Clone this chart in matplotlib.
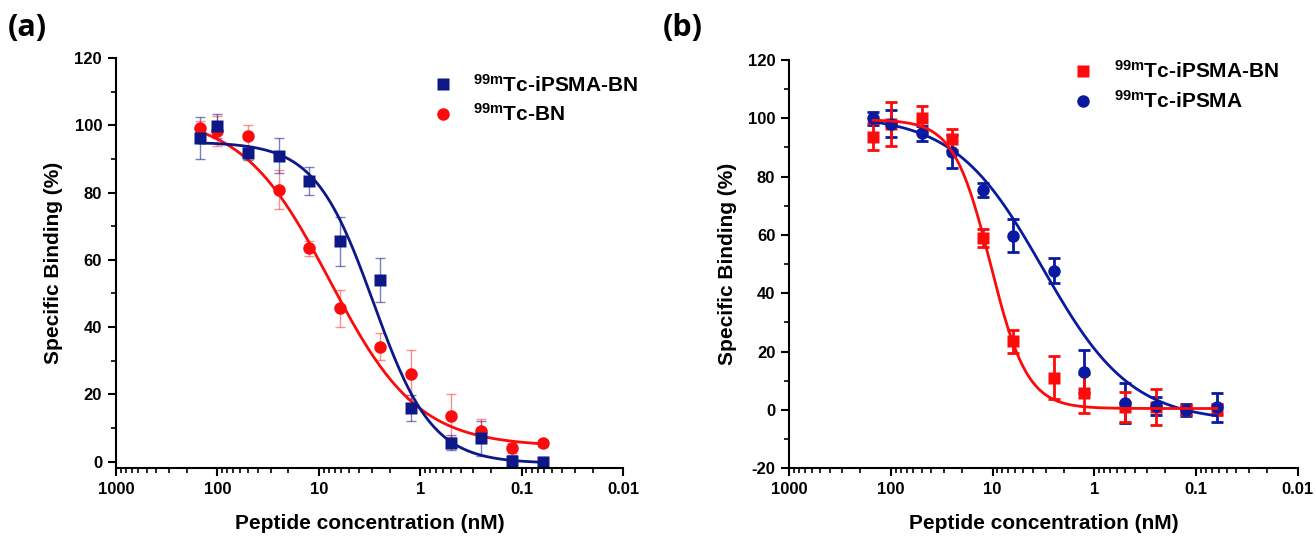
import numpy as np
import matplotlib
matplotlib.use("Agg")
import matplotlib.pyplot as plt
from matplotlib.lines import Line2D
from matplotlib.ticker import LogLocator, NullFormatter, FixedLocator, FixedFormatter, MultipleLocator

plt.rcParams['font.family'] = ['Liberation Sans', 'DejaVu Sans']
plt.rcParams['font.weight'] = 'bold'
plt.rcParams['axes.unicode_minus'] = False
plt.rcParams['mathtext.fontset'] = 'custom'
plt.rcParams['mathtext.rm'] = 'Liberation Sans:bold'
plt.rcParams['mathtext.it'] = 'Liberation Sans:bold'
plt.rcParams['mathtext.bf'] = 'Liberation Sans:bold'

# peptide concentrations (nM)
conc = [150, 100, 50, 25, 12.5, 6.25, 2.5, 1.25, 0.5, 0.25, 0.125, 0.0625]

# panel (a)
a_ipsma_bn = [96.2, 99.8, 91.8, 90.9, 83.5, 65.5, 54.0, 16.0, 5.6, 6.9, 0.3, 0.0]
a_ipsma_bn_err = [6.3, 3.5, 2.0, 5.2, 4.2, 7.2, 6.5, 3.8, 2.3, 5.2, 1.7, 1.5]
a_bn = [99.3, 98.3, 96.7, 80.8, 63.4, 45.6, 34.2, 25.9, 13.7, 9.1, 4.1, 5.4]
a_bn_err = [2.0, 4.5, 3.4, 5.8, 2.3, 5.5, 4.1, 7.3, 6.4, 3.7, 1.5, 1.0]

# panel (b)
b_ipsma_bn = [93.7, 98.0, 100.0, 92.8, 59.0, 23.6, 11.1, 5.7, 1.0, 1.0, 0.0, 0.2]
b_ipsma_bn_err = [4.7, 7.6, 4.3, 3.6, 3.0, 3.9, 7.5, 6.7, 5.2, 6.1, 1.5, 1.8]
b_ipsma = [100.0, 98.2, 94.8, 88.5, 75.4, 59.8, 47.8, 13.1, 2.3, 1.4, 0.0, 0.9]
b_ipsma_err = [2.2, 4.6, 2.6, 5.7, 2.3, 5.6, 4.3, 7.4, 6.9, 3.0, 2.0, 5.0]

# dose-response fits: top, bottom, IC50 (nM), hill slope
fit_a_ipsma_bn = (95.0, -0.5, 2.9, 1.5)
fit_a_bn = (103.0, 4.5, 7.8, 1.0)
fit_b_ipsma_bn = (99.5, 0.5, 10.5, 2.4)
fit_b_ipsma = (101.0, -4.0, 3.2, 1.0)

x_ticks = [1000, 100, 10, 1, 0.1, 0.01]
x_labels = ["1000", "100", "10", "1", "0.1", "0.01"]

navy = "#0c1888"
blue = "#0a1aa0"
red = "#fd0a0a"


def logistic(x, top, bottom, ic50, hill):
    return bottom + (top - bottom) / (1 + 10 ** (hill * (np.log10(ic50) - np.log10(x))))


def style_axes(ax, ymin, yticks):
    ax.set_xscale('log')
    ax.set_xlim(1000, 0.01)
    ax.xaxis.set_major_locator(FixedLocator(x_ticks))
    ax.xaxis.set_major_formatter(FixedFormatter(x_labels))
    ax.xaxis.set_minor_locator(LogLocator(base=10, subs=np.arange(2, 10), numticks=20))
    ax.xaxis.set_minor_formatter(NullFormatter())
    ax.set_ylim(ymin, 120)
    ax.set_yticks(yticks)
    ax.yaxis.set_minor_locator(MultipleLocator(10))
    for s in ['top', 'right']:
        ax.spines[s].set_visible(False)
    for s in ['left', 'bottom']:
        ax.spines[s].set_linewidth(1.5)
    ax.tick_params(which='major', direction='out', length=6, width=1.5, labelsize=12, pad=4)
    ax.tick_params(which='minor', direction='out', length=3.5, width=1.2)
    ax.set_xlabel("Peptide concentration (nM)", fontsize=15, fontweight='bold', labelpad=12)
    ax.set_ylabel("Specific Binding (%)", fontsize=15, fontweight='bold', labelpad=8)


fig = plt.figure(figsize=(13.15, 5.36), dpi=100)
ax1 = fig.add_axes([0.0882, 0.1263, 0.3858, 0.7655])
ax2 = fig.add_axes([0.6002, 0.1263, 0.3866, 0.7618])

xc = np.logspace(np.log10(conc[0]), np.log10(conc[-1]), 300)

# panel (a)
ax1.errorbar(conc, a_ipsma_bn, yerr=a_ipsma_bn_err, fmt='none', ecolor=navy, alpha=0.55,
             elinewidth=1, capsize=3.5, capthick=1)
ax1.errorbar(conc, a_bn, yerr=a_bn_err, fmt='none', ecolor=red, alpha=0.45,
             elinewidth=1, capsize=3.5, capthick=1)
ax1.plot(xc, logistic(xc, *fit_a_bn), color=red, lw=2)
ax1.plot(xc, logistic(xc, *fit_a_ipsma_bn), color=navy, lw=2)
ax1.plot(conc, a_bn, 'o', color=red, ms=9, mec='none')
ax1.plot(conc, a_ipsma_bn, 's', color=navy, ms=8, mec='none')
style_axes(ax1, -2, [0, 20, 40, 60, 80, 100, 120])

h1 = [Line2D([], [], marker='s', ls='none', color=navy, ms=8, mec='none'),
      Line2D([], [], marker='o', ls='none', color=red, ms=9, mec='none')]
ax1.legend(h1, [r'$^{99m}$Tc-iPSMA-BN', r'$^{99m}$Tc-BN'], loc='upper left',
           bbox_to_anchor=(0.624, 0.962), frameon=False, borderpad=0, borderaxespad=0,
           handlelength=1.0, handletextpad=0.95, labelspacing=0.37,
           prop={'size': 15, 'weight': 'bold'})

# panel (b)
ax2.errorbar(conc, b_ipsma, yerr=b_ipsma_err, fmt='none', ecolor=blue,
             elinewidth=2, capsize=4, capthick=2)
ax2.errorbar(conc, b_ipsma_bn, yerr=b_ipsma_bn_err, fmt='none', ecolor=red,
             elinewidth=2, capsize=4, capthick=2)
ax2.plot(conc, b_ipsma_bn, 's', color=red, ms=8, mec='none')
ax2.plot(conc, b_ipsma, 'o', color=blue, ms=9, mec='none')
ax2.plot(xc, logistic(xc, *fit_b_ipsma), color=blue, lw=2)
ax2.plot(xc, logistic(xc, *fit_b_ipsma_bn), color=red, lw=2)
style_axes(ax2, -20, [-20, 0, 20, 40, 60, 80, 100, 120])

h2 = [Line2D([], [], marker='s', ls='none', color=red, ms=8, mec='none'),
      Line2D([], [], marker='o', ls='none', color=blue, ms=9, mec='none')]
ax2.legend(h2, [r'$^{99m}$Tc-iPSMA-BN', r'$^{99m}$Tc-iPSMA'], loc='upper left',
           bbox_to_anchor=(0.558, 1.0), frameon=False, borderpad=0, borderaxespad=0,
           handlelength=1.0, handletextpad=0.95, labelspacing=0.39,
           prop={'size': 15, 'weight': 'bold'})

fig.text(0.006, 0.975, "(a)", fontsize=22, fontweight='bold', family=['Open Sans', 'DejaVu Sans'],
         va='top', ha='left')
fig.text(0.504, 0.975, "(b)", fontsize=22, fontweight='bold', family=['Open Sans', 'DejaVu Sans'],
         va='top', ha='left')

fig.savefig("out.png", dpi=100)
